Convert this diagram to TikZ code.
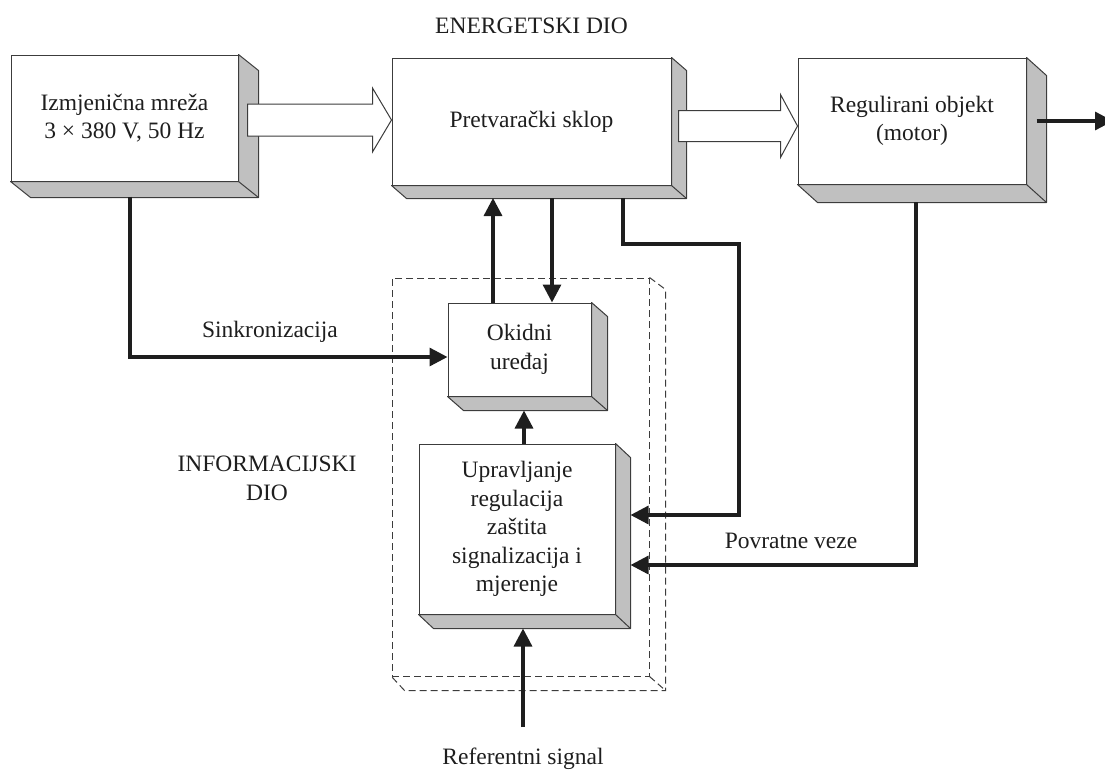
\documentclass[tikz,border=0pt]{standalone}
\usepackage{fontspec}
\setmainfont{Liberation Serif}
\usetikzlibrary{calc,arrows.meta}
\definecolor{side}{HTML}{C0C0C0}
\definecolor{edge}{HTML}{3C3C3C}
\definecolor{ink}{HTML}{1E1E1E}
\newcommand\bevelbox[3]{%
  \filldraw[fill=side,draw=edge,line width=1pt,line join=round]
    (#1.north east) -- ++(#2,#3) -- ($(#1.south east)+(#2,#3)$)
    -- ($(#1.south west)+(#2,#3)$) -- (#1.south west) -- (#1.south east) -- cycle;
  \draw[edge,line width=1pt] (#1.south east) -- ++(#2,#3);
}
\begin{document}
\begin{tikzpicture}[x=1pt,y=-1pt,
  font=\fontsize{23.5}{28.5}\selectfont,
  box/.style={draw=edge,fill=white,line width=1pt,inner sep=0pt,align=center,text=ink},
  lbl/.style={inner sep=0pt,text=ink,align=center},
  conn/.style={draw=ink,line width=3.3pt,-{Triangle[length=18pt,width=18pt]}},
  hollow/.style={draw=edge,fill=white,line width=1pt,line join=miter},
  dashbox/.style={draw=edge,line width=1pt,dash pattern=on 7pt off 4pt}]
\useasboundingbox (0,0) rectangle (1105,774);
\clip (0,0) rectangle (1105,774);

% dashed information part
\node[dashbox,minimum width=257,minimum height=398,inner sep=0pt] (info) at (520.5,477) {};
\draw[dashbox] (info.north east) -- ++(16,12) -- ($(info.south east)+(16,14)$)
  -- ($(info.south west)+(13,14)$) -- (info.south west);
\draw[dashbox] (info.south east) -- ++(16,14);

% boxes
\node[box,minimum width=227,minimum height=126] (mreza) at (124.5,118)
  {Izmjenična mreža\\3 × 380 V, 50 Hz};
\bevelbox{mreza}{20}{16}
\node[box,minimum width=279,minimum height=127] (pretv) at (531.5,121.5)
  {Pretvarački sklop};
\bevelbox{pretv}{15}{13}
\node[box,minimum width=228,minimum height=126] (motor) at (912,121)
  {Regulirani objekt\\(motor)};
\bevelbox{motor}{20}{18}
\node[box,minimum width=143,minimum height=93] (okid) at (519.5,349.5)
  {Okidni\\uređaj};
\bevelbox{okid}{16}{14}
\node[box,minimum width=196,minimum height=170] (uprav) at (517,529)
  {Upravljanje\\regulacija\\zaštita\\signalizacija i\\mjerenje};
\bevelbox{uprav}{15}{14}

% bevel bottoms
\coordinate (b1b) at ($(mreza.south)+(0,15)$);
\coordinate (b2b) at ($(pretv.south)+(0,12.5)$);
\coordinate (b3b) at ($(motor.south)+(0,17.5)$);
\coordinate (b4b) at ($(okid.south)+(0,14)$);
\coordinate (b5b) at ($(uprav.south)+(0,14)$);

% hollow power arrows
\coordinate (a1s) at ($(mreza.east)+(9,2)$);
\coordinate (a1e) at (pretv.west |- a1s);
\draw[hollow] ($(a1s)+(0,-16)$) -- ($(a1e)+(-19,-16)$) -- ($(a1e)+(-19,-32)$)
  -- (a1e) -- ($(a1e)+(-19,32)$) -- ($(a1e)+(-19,16)$) -- ($(a1s)+(0,16)$) -- cycle;
\coordinate (a2s) at ($(pretv.east)+(7,4.5)$);
\coordinate (a2e) at (motor.west |- a2s);
\draw[hollow] ($(a2s)+(0,-15.5)$) -- ($(a2e)+(-17,-15.5)$) -- ($(a2e)+(-17,-31.5)$)
  -- (a2e) -- ($(a2e)+(-17,31.5)$) -- ($(a2e)+(-17,15.5)$) -- ($(a2s)+(0,15.5)$) -- cycle;

% signal connectors
\draw[conn] ([xshift=5.5pt]b1b) |- ($(okid.west)+(0,7.5)$);
\draw[conn] ([xshift=-26.5pt]okid.north) -- ([xshift=-26.5pt]okid.north |- b2b);
\draw[conn] ([xshift=32.5pt]okid.north |- b2b) -- ([xshift=32.5pt]okid.north);
\draw[conn] ([xshift=91.5pt]b2b) -- ++(0,46) -- ++(116,0) |- ($(uprav.east)+(15,-14)$);
\draw[conn] ([xshift=4pt]b3b) |- ($(uprav.east)+(15,36)$);
\draw[conn] ([xshift=7pt]uprav.north) -- ([xshift=7pt]uprav.north |- b4b);
\coordinate (refs) at (523,727);
\draw[conn] (refs) -- (refs |- b5b);
\coordinate (out) at (1113,121);
\draw[conn] ($(motor.east)+(10,0)$) -- (out);

% labels
\node[lbl] (energ) at (531.5,26) {ENERGETSKI DIO};
\node[lbl,anchor=base] (sink) at (270,337) {Sinkronizacija};
\node[lbl,anchor=base] (povr) at (791,548) {Povratne veze};
\node[lbl] (infod) at (267,478.5) {INFORMACIJSKI\\DIO};
\node[lbl,anchor=base] (refsig) at (523,764) {Referentni signal};
\end{tikzpicture}
\end{document}
